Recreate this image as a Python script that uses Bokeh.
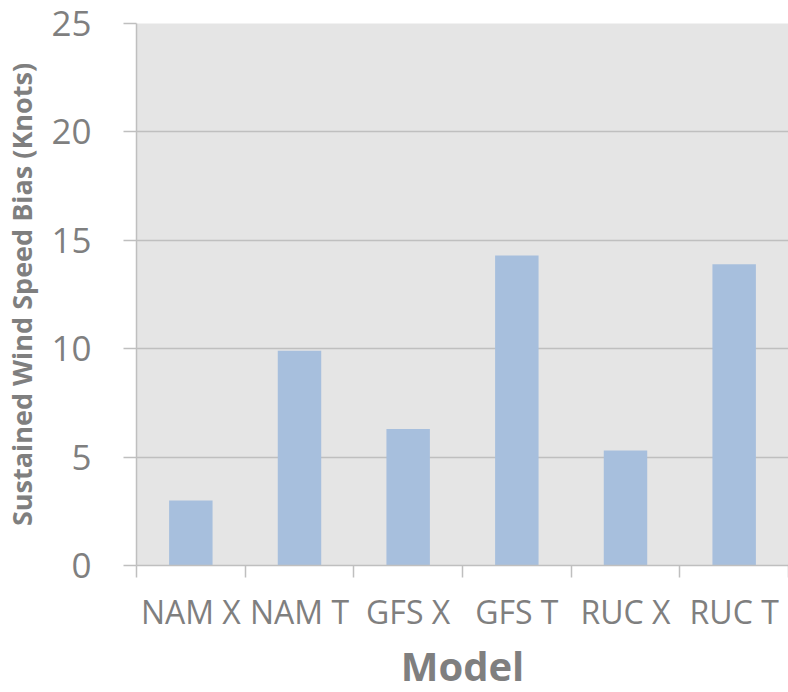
from bokeh.plotting import figure
from bokeh.models import FixedTicker, Range1d, ColumnDataSource, Title
from bokeh.embed import file_html
from bokeh.resources import INLINE

models = ["NAM X", "NAM T", "GFS X", "GFS T", "RUC X", "RUC T"]
bias = [3.0, 9.9, 6.3, 14.3, 5.3, 13.9]
y_ticks = [0, 5, 10, 15, 20, 25]

n = len(models)
centers = [i + 0.5 for i in range(n)]
src = ColumnDataSource(dict(x=centers, top=bias, name=models))

GRAY_TXT = "#7f7f7f"
GRID = "#bfbfbf"
FONT = "Open Sans"

p = figure(width=788, height=692, output_backend="svg", toolbar_location=None,
           x_range=Range1d(0, n), y_range=Range1d(0, 25),
           min_border_left=135, min_border_right=0, min_border_top=23, min_border_bottom=127)

p.background_fill_color = "#e5e5e5"
p.border_fill_color = "white"
p.outline_line_color = None

p.vbar(x="x", top="top", width=0.4, bottom=0, source=src,
       fill_color="#a7bfdd", line_color=None)

# x axis
xa = p.xaxis[0]
xa.ticker = FixedTicker(ticks=centers, minor_ticks=list(range(n + 1)))
xa.major_label_overrides = {c: m for c, m in zip(centers, models)}
xa.major_tick_out = 0
xa.major_tick_in = 0
xa.minor_tick_out = 12
xa.minor_tick_in = 0
xa.minor_tick_line_color = GRID
xa.minor_tick_line_width = 1.5
xa.axis_line_color = GRID
xa.axis_line_width = 1.5
xa.major_label_text_font = FONT
xa.major_label_text_font_size = "32px"
xa.major_label_text_color = GRAY_TXT
xa.major_label_standoff = 12

# x axis title, centred under the frame
p.add_layout(Title(text="Model", align="center", text_font=FONT,
                   text_font_size="40px", text_font_style="bold",
                   text_color=GRAY_TXT, standoff=0), "below")

# y axis
ya = p.yaxis[0]
ya.ticker = FixedTicker(ticks=y_ticks)
ya.minor_tick_line_color = None
ya.major_tick_out = 13
ya.major_tick_in = 0
ya.major_tick_line_color = GRID
ya.major_tick_line_width = 1.5
ya.axis_line_color = GRID
ya.axis_line_width = 1.5
ya.major_label_text_font = FONT
ya.major_label_text_font_size = "35px"
ya.major_label_text_color = GRAY_TXT
ya.major_label_standoff = 32
ya.axis_label = "Sustained Wind Speed Bias (Knots)"
ya.axis_label_text_font = FONT
ya.axis_label_text_font_size = "27px"
ya.axis_label_text_font_style = "bold"
ya.axis_label_text_color = GRAY_TXT
ya.axis_label_standoff = 8

p.xgrid.grid_line_color = None
p.ygrid.ticker = FixedTicker(ticks=y_ticks)
p.ygrid.grid_line_color = GRID
p.ygrid.grid_line_width = 1.5

open("out.html", "w").write(file_html(p, INLINE))
